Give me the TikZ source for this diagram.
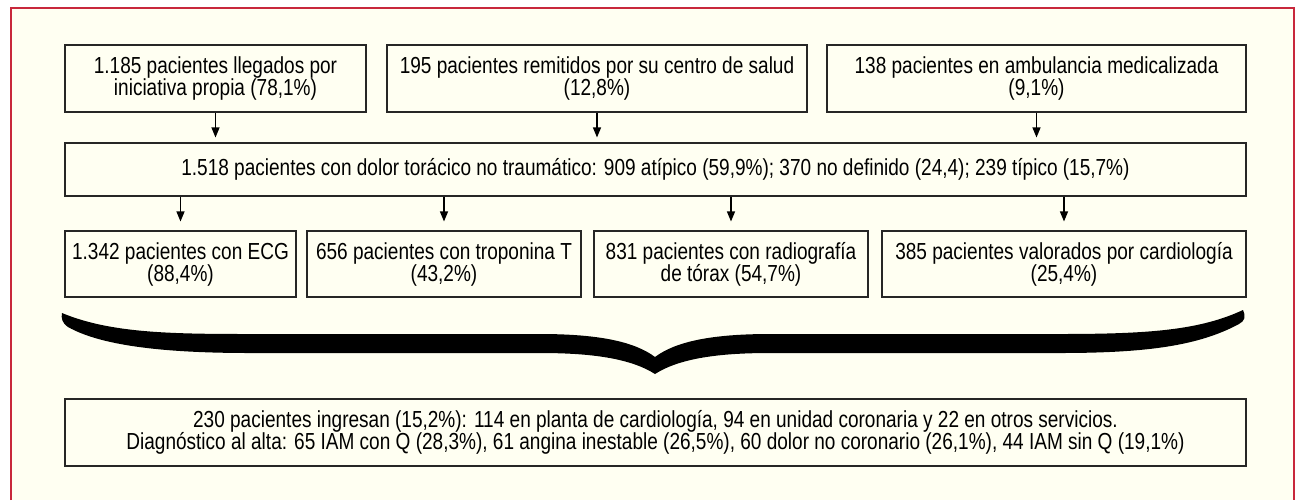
\documentclass[tikz,border=0pt]{standalone}
\usepackage{fontspec}
\setmainfont{Liberation Sans}[FakeStretch=0.82]
\usepackage{xcolor}
\usetikzlibrary{arrows.meta}
\definecolor{marco}{HTML}{C8283C}
\definecolor{fondo}{HTML}{FFFFF2}

\begin{document}
\begin{tikzpicture}[yscale=-1, x=0.5pt, y=0.5pt,
	caja/.style={draw=black!85, line width=0.55pt, fill=fondo, align=center, inner sep=0pt, font=\fontsize{11.6}{11}\selectfont},
	flecha/.style={-{Triangle[length=5pt,width=4pt]}, line width=0.6pt, shorten >=2.5pt}]
	\useasboundingbox (0,0) rectangle (1296,500);
	\fill [white] (0,0) rectangle (1296,500);
	\fill [fondo] (11,8) rectangle (1294,500);
	\draw [marco, line width=0.7pt] (11,500) -- (11,8) -- (1294,8) -- (1294,500);

	\node [caja, minimum width=150.5pt, minimum height=33.5pt] (b1) at (215.5, 78.5) {1.185 pacientes llegados por\\iniciativa propia (78,1\%)};
	\node [caja, minimum width=210pt, minimum height=33.5pt] (b2) at (597, 78.5) {195 pacientes remitidos por su centro de salud\\(12,8\%)};
	\node [caja, minimum width=209.5pt, minimum height=33.5pt] (b3) at (1036.5, 78.5) {138 pacientes en ambulancia medicalizada\\(9,1\%)};

	\node [caja, minimum width=590.5pt, minimum height=26.5pt] (mid) at (655.5, 169.5) {1.518 pacientes con dolor torácico no traumático: 909 atípico (59,9\%); 370 no definido (24,4); 239 típico (15,7\%)};

	\node [caja, minimum width=115.5pt, minimum height=33pt] (r1) at (180.5, 264) {1.342 pacientes con ECG\\(88,4\%)};
	\node [caja, minimum width=137pt, minimum height=33pt] (r2) at (444, 264) {656 pacientes con troponina T\\(43,2\%)};
	\node [caja, minimum width=137pt, minimum height=33pt] (r3) at (731, 264) {831 pacientes con radiografía\\de tórax (54,7\%)};
	\node [caja, minimum width=182pt, minimum height=33pt] (r4) at (1064, 264) {385 pacientes valorados por cardiología\\(25,4\%)};

	\node [caja, minimum width=590.5pt, minimum height=33.5pt] (fin) at (655.5, 432.5) {230 pacientes ingresan (15,2\%): 114 en planta de cardiología, 94 en unidad coronaria y 22 en otros servicios.\\Diagnóstico al alta: 65 IAM con Q (28,3\%), 61 angina inestable (26,5\%), 60 dolor no coronario (26,1\%), 44 IAM sin Q (19,1\%)};

	\draw [flecha] (b1.south) to (b1.south |- mid.north);
	\draw [flecha] (b2.south) to (b2.south |- mid.north);
	\draw [flecha] (b3.south) to (b3.south |- mid.north);

	\draw [flecha, shorten >=4.5pt] (r1 |- mid.south) to (r1.north);
	\draw [flecha, shorten >=4.5pt] (r2 |- mid.south) to (r2.north);
	\draw [flecha, shorten >=4.5pt] (r3 |- mid.south) to (r3.north);
	\draw [flecha, shorten >=4.5pt] (r4 |- mid.south) to (r4.north);

	% llave
	\fill [black] (62,313) .. controls (110,333) and (170,334) .. (250,334) -- (540,334)
		.. controls (600,334) and (635,342) .. (655,357)
		.. controls (675,342) and (710,334) .. (770,334) -- (1060,334)
		.. controls (1150,334) and (1200,330) .. (1243,310)
		.. controls (1246,316) and (1245,321) .. (1239,324)
		.. controls (1200,345) and (1150,353) .. (1060,353) -- (770,353)
		.. controls (720,353) and (680,358) .. (655,374)
		.. controls (630,358) and (590,353) .. (540,353) -- (250,353)
		.. controls (160,353) and (100,345) .. (68,327)
		.. controls (62,323) and (61,318) .. (62,313) -- cycle;
\end{tikzpicture}
\end{document}
